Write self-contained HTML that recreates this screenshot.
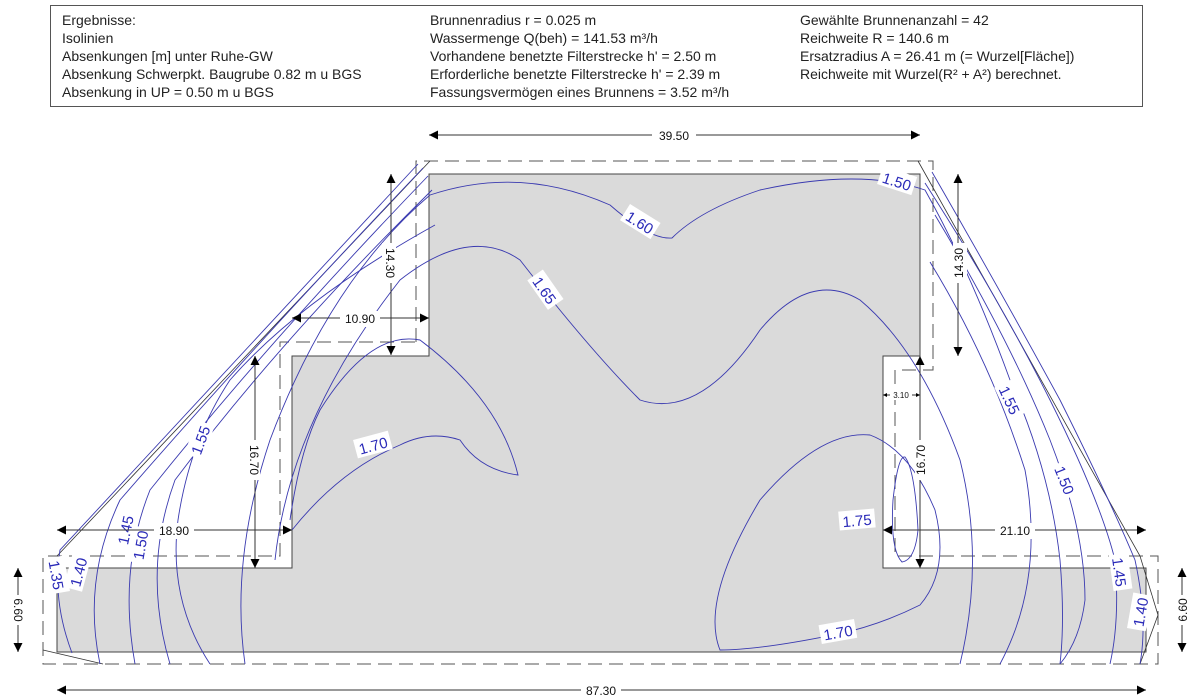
<!DOCTYPE html>
<html><head><meta charset="utf-8"><style>
body{margin:0;background:#fff}
svg{display:block;font-family:"Liberation Sans",Arial,sans-serif}
.h{font-size:14px;fill:#222}
.d{font-size:12px;fill:#111}
.c{fill:none;stroke:#3a3ab0;stroke-width:0.9}
.lb{font-size:15px;fill:#2a2ab8}
</style></head><body>
<svg width="1200" height="700" viewBox="0 0 1200 700">
<defs>
<marker id="a" viewBox="0 0 10 10" refX="10" refY="5" markerWidth="17" markerHeight="9" markerUnits="userSpaceOnUse" orient="auto-start-reverse"><path d="M0,0L10,5L0,10z" fill="#000"/></marker>
<marker id="s" viewBox="0 0 10 10" refX="10" refY="5" markerWidth="7" markerHeight="4" markerUnits="userSpaceOnUse" orient="auto-start-reverse"><path d="M0,0L10,5L0,10z" fill="#000"/></marker>
</defs>
<rect x="50.5" y="5.5" width="1092" height="101" fill="#fff" stroke="#555"/>
<g class="h">
<text x="62" y="25">Ergebnisse:</text>
<text x="62" y="43">Isolinien</text>
<text x="62" y="61">Absenkungen [m] unter Ruhe-GW</text>
<text x="62" y="79">Absenkung Schwerpkt. Baugrube 0.82 m u BGS</text>
<text x="62" y="97">Absenkung in UP = 0.50 m u BGS</text>
<text x="430" y="25">Brunnenradius r = 0.025 m</text>
<text x="430" y="43">Wassermenge Q(beh) = 141.53 m³/h</text>
<text x="430" y="61">Vorhandene benetzte Filterstrecke h' = 2.50 m</text>
<text x="430" y="79">Erforderliche benetzte Filterstrecke h' = 2.39 m</text>
<text x="430" y="97">Fassungsvermögen eines Brunnens = 3.52 m³/h</text>
<text x="800" y="25">Gewählte Brunnenanzahl = 42</text>
<text x="800" y="43">Reichweite R = 140.6 m</text>
<text x="800" y="61">Ersatzradius A = 26.41 m (= Wurzel[Fläche])</text>
<text x="800" y="79">Reichweite mit Wurzel(R² + A²) berechnet.</text>
</g>
<path d="M429,174H920V356H883V568H1146V652H57V568H292V356H429Z" fill="#dadada" stroke="#444" stroke-width="1"/>
<path d="M416,342V161H933V370H895V556H1158V664H43V556H280V342Z" fill="none" stroke="#555" stroke-dasharray="14,7" stroke-width="1"/>
<path d="M430,161L57,556 M43,650L103,664 M918,161L1140,556L1158,615L1140,664" fill="none" stroke="#333" stroke-width="0.8"/>
<g class="c">
<path d="M418,164L60,550Q52,600 72,653"/>
<path d="M423,168Q250,350 120,500Q82,580 100,664"/>
<path d="M428,176Q270,340 150,490Q118,570 135,664"/>
<path d="M432,190Q280,340 175,480Q142,570 170,664"/>
<path d="M435,225Q300,300 230,380Q190,440 178,520Q168,600 210,664"/>
<path d="M245,664Q230,560 270,440Q330,280 430,195Q520,165 610,205Q650,240 672,238Q700,210 760,190Q860,168 925,190Q970,270 1010,380Q1050,470 1060,560Q1065,620 1060,664"/>
<path d="M275,560Q290,420 400,280Q470,225 520,260Q590,350 640,400Q700,420 760,330Q810,270 860,300Q920,350 960,460Q985,560 960,664"/>
<path d="M292,530Q340,470 400,445Q430,430 460,440Q480,470 518,475Q500,400 420,340Q370,330 320,410Q300,450 290,520"/>
<path d="M838,634Q760,650 720,650Q700,600 760,500Q820,430 870,435Q910,450 935,510Q950,570 920,605Q880,625 838,634"/>
<path d="M893,500Q898,455 905,457Q915,470 918,530Q915,560 902,562Q890,550 893,500"/>
<path d="M932,172Q1000,290 1060,400Q1110,500 1135,560Q1148,620 1140,664"/>
<path d="M925,183Q1000,300 1050,400Q1100,500 1115,560Q1120,620 1110,664"/>
<path d="M935,215Q1010,340 1050,440Q1085,530 1085,600Q1080,640 1060,664"/>
<path d="M930,262Q990,360 1025,470Q1045,580 1000,664"/>
</g>
<g class="lb" text-anchor="middle">
<g transform="translate(897,181) rotate(18)"><rect x="-18" y="-10" width="36" height="19" fill="#fff"/><text y="6">1.50</text></g>
<g transform="translate(640,222) rotate(32)"><rect x="-18" y="-10" width="36" height="19" fill="#fff"/><text y="6">1.60</text></g>
<g transform="translate(545,290) rotate(55)"><rect x="-18" y="-10" width="36" height="19" fill="#fff"/><text y="6">1.65</text></g>
<g transform="translate(373,445) rotate(-15)"><rect x="-18" y="-10" width="36" height="19" fill="#fff"/><text y="6">1.70</text></g>
<g transform="translate(200,440) rotate(-70)"><rect x="-18" y="-10" width="36" height="19" fill="#fff"/><text y="6">1.55</text></g>
<g transform="translate(125,530) rotate(-78)"><rect x="-18" y="-10" width="36" height="19" fill="#fff"/><text y="6">1.45</text></g>
<g transform="translate(140,545) rotate(-80)"><rect x="-18" y="-10" width="36" height="19" fill="#fff"/><text y="6">1.50</text></g>
<g transform="translate(78,572) rotate(-75)"><rect x="-18" y="-10" width="36" height="19" fill="#fff"/><text y="6">1.40</text></g>
<g transform="translate(57,575) rotate(80)"><rect x="-18" y="-10" width="36" height="19" fill="#fff"/><text y="6">1.35</text></g>
<g transform="translate(1010,400) rotate(65)"><rect x="-18" y="-10" width="36" height="19" fill="#fff"/><text y="6">1.55</text></g>
<g transform="translate(1065,480) rotate(68)"><rect x="-18" y="-10" width="36" height="19" fill="#fff"/><text y="6">1.50</text></g>
<g transform="translate(1120,572) rotate(82)"><rect x="-18" y="-10" width="36" height="19" fill="#fff"/><text y="6">1.45</text></g>
<g transform="translate(1140,612) rotate(-80)"><rect x="-18" y="-10" width="36" height="19" fill="#fff"/><text y="6">1.40</text></g>
<g transform="translate(857,520) rotate(-5)"><rect x="-18" y="-10" width="36" height="19" fill="#fff"/><text y="6">1.75</text></g>
<g transform="translate(838,632) rotate(-10)"><rect x="-18" y="-10" width="36" height="19" fill="#fff"/><text y="6">1.70</text></g>
</g>
<g stroke="#333" stroke-width="1" fill="none">
<path d="M429,135H920" marker-start="url(#a)" marker-end="url(#a)"/>
<path d="M391,174V355" marker-start="url(#a)" marker-end="url(#a)"/>
<path d="M292,318H429" marker-start="url(#a)" marker-end="url(#a)"/>
<path d="M255,356V568" marker-start="url(#a)" marker-end="url(#a)"/>
<path d="M57,530H292" marker-start="url(#a)" marker-end="url(#a)"/>
<path d="M958,174V356" marker-start="url(#a)" marker-end="url(#a)"/>
<path d="M883,395H920" marker-start="url(#s)" marker-end="url(#s)"/>
<path d="M920,356V568" marker-start="url(#a)" marker-end="url(#a)"/>
<path d="M883,530H1146" marker-start="url(#a)" marker-end="url(#a)"/>
<path d="M18,568V652" marker-start="url(#a)" marker-end="url(#a)"/>
<path d="M1182,568V652" marker-start="url(#a)" marker-end="url(#a)"/>
<path d="M57,690H1146" marker-start="url(#a)" marker-end="url(#a)"/>
</g>
<g class="d" text-anchor="middle">
<g transform="translate(674,140)"><rect x="-22" y="-12" width="44" height="16" fill="#fff"/><text>39.50</text></g>
<g transform="translate(386,263) rotate(90)"><rect x="-20" y="-10" width="40" height="14" fill="#fff"/><text>14.30</text></g>
<g transform="translate(360,323)"><rect x="-20" y="-12" width="40" height="16" fill="#fff"/><text>10.90</text></g>
<g transform="translate(250,460) rotate(90)"><rect x="-20" y="-10" width="40" height="14" fill="#fff"/><text>16.70</text></g>
<g transform="translate(174,535)"><rect x="-20" y="-12" width="40" height="16" fill="#fff"/><text>18.90</text></g>
<g transform="translate(963,263) rotate(-90)"><rect x="-20" y="-10" width="40" height="14" fill="#fff"/><text>14.30</text></g>
<g transform="translate(901,398)"><rect x="-11" y="-8" width="22" height="10" fill="#fff"/><text style="font-size:8px">3.10</text></g>
<g transform="translate(925,460) rotate(-90)"><rect x="-20" y="-10" width="40" height="14" fill="#fff"/><text>16.70</text></g>
<g transform="translate(1015,535)"><rect x="-20" y="-12" width="40" height="16" fill="#fff"/><text>21.10</text></g>
<g transform="translate(14,610) rotate(90)"><rect x="-15" y="-10" width="30" height="14" fill="#fff"/><text>6.60</text></g>
<g transform="translate(1187,610) rotate(-90)"><rect x="-15" y="-10" width="30" height="14" fill="#fff"/><text>6.60</text></g>
<g transform="translate(601,695)"><rect x="-20" y="-12" width="40" height="16" fill="#fff"/><text>87.30</text></g>
</g>
</svg>
</body></html>
